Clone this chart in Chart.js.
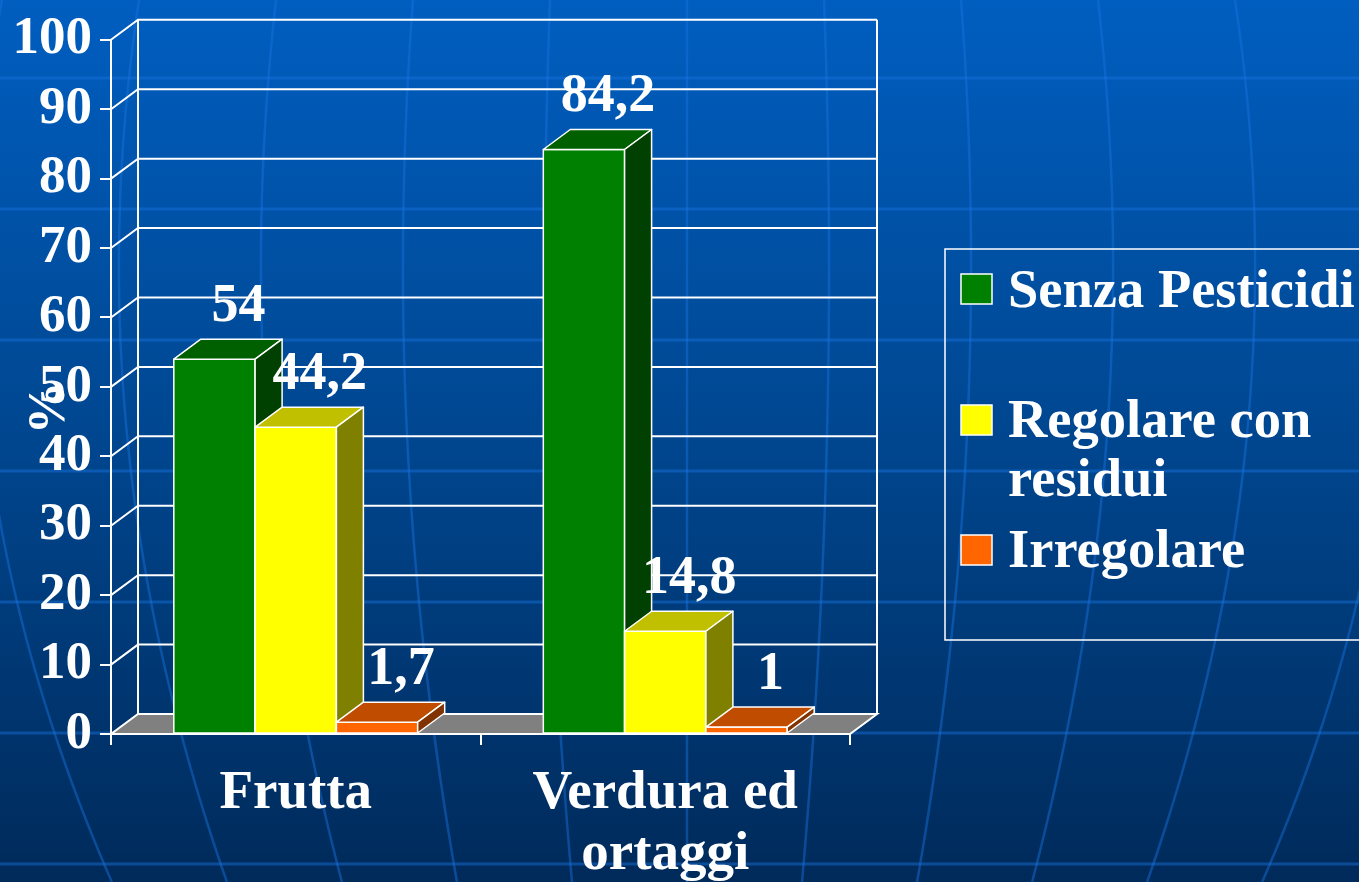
<!DOCTYPE html>
<html>
<head>
<meta charset="utf-8">
<title>Pesticidi</title>
<script src="https://cdn.jsdelivr.net/npm/chart.js@4.4.0/dist/chart.umd.min.js"></script>
<style>
	body { margin: 0; background: #003c80; }
	#wrap { width: 1359px; height: 882px; position: relative; }
</style>
</head>
<body>
<div id="wrap"><canvas id="mycanvas"></canvas></div>
<script>
var categorie = ['Frutta', ['Verdura ed', 'ortaggi']];
var senzaPesticidi = [54, 84.2];
var regolareResidui = [44.2, 14.8];
var irregolare = [1.7, 1];
var nomiSerie = ['Senza Pesticidi', 'Regolare con residui', 'Irregolare'];
var yMin = 0, yMax = 100, yStep = 10;

var font = '"Liberation Serif", "Times New Roman", serif';
var dx = 27, dy = 20;

function numIt(v) {
	return String(v).replace('.', ',');
}

// sfondo blu con le linee del globo
var sfondo = {
	id: 'sfondo',
	beforeDraw: function(chart) {
		var ctx = chart.ctx, w = chart.width, h = chart.height;
		var g = ctx.createLinearGradient(0, 0, 0, h);
		g.addColorStop(0, '#005ec0');
		g.addColorStop(0.5, '#00468f');
		g.addColorStop(1, '#002a5a');
		ctx.save();
		ctx.fillStyle = g;
		ctx.fillRect(0, 0, w, h);
		ctx.strokeStyle = 'rgba(25,115,225,0.45)';
		ctx.lineWidth = 3;
		for (var y = 78; y < h; y += 131) {
			ctx.beginPath();
			ctx.moveTo(0, y);
			ctx.lineTo(w, y);
			ctx.stroke();
		}
		ctx.lineWidth = 2.5;
		for (var k = -6; k <= 6; k++) {
			ctx.beginPath();
			for (var yy = 0; yy <= h; yy += 14) {
				var s = 137 + 0.0378 * yy - 0.0000711 * yy * yy;
				var xx = 687 + k * s;
				if (yy === 0) ctx.moveTo(xx, yy); else ctx.lineTo(xx, yy);
			}
			ctx.stroke();
		}
		ctx.restore();
	}
};

function faccia(ctx, punti, colore) {
	ctx.fillStyle = colore;
	ctx.beginPath();
	ctx.moveTo(punti[0][0], punti[0][1]);
	for (var i = 1; i < punti.length; i++) ctx.lineTo(punti[i][0], punti[i][1]);
	ctx.closePath();
	ctx.fill();
	ctx.stroke();
}

// pareti, pavimento e barre 3D
var treD = {
	id: 'treD',
	beforeDatasetsDraw: function(chart) {
		var ctx = chart.ctx, a = chart.chartArea, ys = chart.scales.y;
		ctx.save();
		ctx.strokeStyle = 'white';
		ctx.lineWidth = 2;
		for (var v = yMin + yStep; v <= yMax; v += yStep) {
			var py = ys.getPixelForValue(v);
			ctx.beginPath();
			ctx.moveTo(a.left, py);
			ctx.lineTo(a.left + dx, py - dy);
			ctx.lineTo(a.right + dx, py - dy);
			ctx.stroke();
		}
		var p0 = ys.getPixelForValue(yMin), p1 = ys.getPixelForValue(yMax);
		ctx.beginPath();
		ctx.moveTo(a.left + dx, p0 - dy);
		ctx.lineTo(a.left + dx, p1 - dy);
		ctx.moveTo(a.right + dx, p0 - dy);
		ctx.lineTo(a.right + dx, p1 - dy);
		ctx.stroke();
		faccia(ctx, [[a.left, p0], [a.right, p0], [a.right + dx, p0 - dy], [a.left + dx, p0 - dy]], '#808080');
		ctx.restore();
	},
	afterDatasetsDraw: function(chart) {
		var ctx = chart.ctx;
		ctx.save();
		ctx.strokeStyle = 'white';
		ctx.lineWidth = 1.5;
		ctx.lineJoin = 'round';
		// da sinistra a destra, cosi' le facce davanti coprono i fianchi
		chart.data.datasets.forEach(function(ds, i) {
			chart.getDatasetMeta(i).data.forEach(function(el) {
				var l = el.x - el.width / 2, r = el.x + el.width / 2;
				faccia(ctx, [[l, el.y], [r, el.y], [r, el.base], [l, el.base]], ds.backgroundColor);
				faccia(ctx, [[l, el.y], [l + dx, el.y - dy], [r + dx, el.y - dy], [r, el.y]], ds.topColor);
				faccia(ctx, [[r, el.y], [r + dx, el.y - dy], [r + dx, el.base - dy], [r, el.base]], ds.sideColor);
			});
		});
		ctx.fillStyle = 'white';
		ctx.font = 'bold 54px ' + font;
		ctx.textAlign = 'center';
		ctx.textBaseline = 'alphabetic';
		chart.data.datasets.forEach(function(ds, i) {
			chart.getDatasetMeta(i).data.forEach(function(el, j) {
				ctx.fillText(numIt(ds.data[j]), el.x + 24, el.y - dy - 18);
			});
		});
		ctx.restore();
	},
	afterDraw: function(chart) {
		var ctx = chart.ctx;
		ctx.save();
		ctx.fillStyle = 'white';
		ctx.font = 'bold 53px ' + font;
		ctx.textAlign = 'center';
		ctx.textBaseline = 'middle';
		ctx.translate(50, 408);
		ctx.rotate(-Math.PI / 2);
		ctx.fillText('%', 0, 0);
		ctx.restore();

		// legenda
		ctx.save();
		ctx.strokeStyle = 'white';
		ctx.lineWidth = 1.5;
		ctx.strokeRect(945, 249, 440, 391);
		ctx.font = 'bold 54.5px ' + font;
		ctx.textBaseline = 'alphabetic';
		var righe = [[307], [437, 496], [567]];
		var quad = [274, 405, 535];
		chart.data.datasets.forEach(function(ds, i) {
			ctx.fillStyle = ds.backgroundColor;
			ctx.fillRect(961, quad[i], 31, 30);
			ctx.strokeRect(961, quad[i], 31, 30);
			ctx.fillStyle = 'white';
			var parole = ds.label.split(' '), linea = '', n = 0;
			parole.forEach(function(p) {
				var prova = linea ? linea + ' ' + p : p;
				if (ctx.measureText(prova).width > 352 && linea) {
					ctx.fillText(linea, 1008, righe[i][n]);
					n++;
					linea = p;
				} else {
					linea = prova;
				}
			});
			ctx.fillText(linea, 1008, righe[i][n]);
		});
		ctx.restore();
	}
};

var chartdata = {
	labels: categorie,
	datasets: [
		{
			label: nomiSerie[0],
			data: senzaPesticidi,
			backgroundColor: '#008000',
			topColor: '#006000',
			sideColor: '#004000'
		},
		{
			label: nomiSerie[1],
			data: regolareResidui,
			backgroundColor: '#ffff00',
			topColor: '#c0c000',
			sideColor: '#808000'
		},
		{
			label: nomiSerie[2],
			data: irregolare,
			backgroundColor: '#ff6600',
			topColor: '#c04c00',
			sideColor: '#803300'
		}
	]
};
chartdata.datasets.forEach(function(ds) {
	ds.borderColor = 'white';
	ds.borderWidth = 1.5;
	ds.borderSkipped = false;
	ds.categoryPercentage = 0.66;
	ds.barPercentage = 1;
});

var ctx = document.getElementById('mycanvas');
var barGraph = new Chart(ctx, {
	type: 'bar',
	data: chartdata,
	plugins: [sfondo, treD],
	options: {
		responsive: true,
		maintainAspectRatio: false,
		animation: false,
		layout: { padding: { left: 0, right: 509, top: 35, bottom: 0 } },
		plugins: {
			legend: { display: false },
			tooltip: { enabled: false }
		},
		scales: {
			x: {
				ticks: { color: 'white', font: { family: font, size: 55, weight: 'bold', lineHeight: 1.1 }, padding: 19, maxRotation: 0 },
				grid: { drawOnChartArea: false, color: 'white', lineWidth: 2, tickLength: 11 },
				border: { color: 'white', width: 2 },
				afterFit: function(scale) { scale.height = 148; }
			},
			y: {
				min: yMin,
				max: yMax,
				ticks: { stepSize: yStep, color: 'white', font: { family: font, size: 53, weight: 'bold' }, padding: 8 },
				grid: { drawOnChartArea: false, color: 'white', lineWidth: 2, tickLength: 11 },
				border: { color: 'white', width: 2 },
				afterFit: function(scale) { scale.width = 111; }
			}
		}
	}
});
</script>
</body>
</html>
